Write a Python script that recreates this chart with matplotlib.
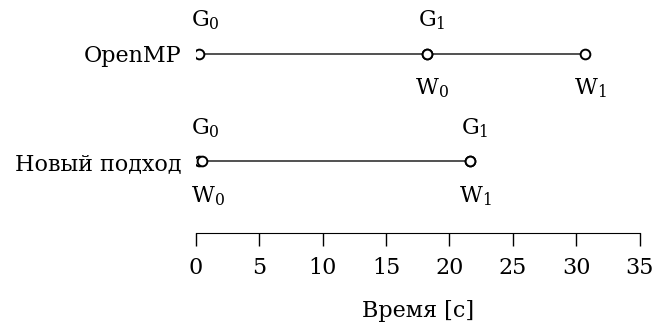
import matplotlib
matplotlib.use('Agg')
import matplotlib.pyplot as plt

plt.rcParams['font.family'] = 'DejaVu Serif'
plt.rcParams['mathtext.fontset'] = 'dejavuserif'

# rows (top to bottom)
methods = ['OpenMP', 'Новый подход']
# moments of G (above the line) and W (below the line), seconds
g_times = [[0.3, 18.2], [0.3, 21.6]]
w_times = [[18.2, 30.7], [0.5, 21.6]]
g_labels = ['G$_0$', 'G$_1$']
w_labels = ['W$_0$', 'W$_1$']
xticks = [0, 5, 10, 15, 20, 25, 30, 35]

fs = 16

fig = plt.figure(figsize=(6.54, 3.30), dpi=100)
ax = fig.add_axes([0.2992, 0.2939, 0.6789, 0.705])

ypos = [1, 0]
for y, gt, wt in zip(ypos, g_times, w_times):
    xs = sorted(gt + wt)
    ax.plot([xs[0], xs[-1]], [y, y], color='#333333', lw=1.2, zorder=1)
    ax.plot(gt + wt, [y] * (len(gt) + len(wt)), 'o', ms=7, mfc='white',
            mec='black', mew=1.4, zorder=2)
    for x, lab in zip(gt, g_labels):
        ax.annotate(lab, (x, y), xytext=(4, 24), textcoords='offset points',
                    ha='center', va='center', fontsize=fs)
    for x, lab in zip(wt, w_labels):
        ax.annotate(lab, (x, y), xytext=(4, -25), textcoords='offset points',
                    ha='center', va='center', fontsize=fs)

ax.set_xlim(0, 35)
ax.set_ylim(-0.67, 1.5)
ax.set_xticks(xticks)
ax.set_yticks(ypos)
ax.set_yticklabels(methods)
ax.tick_params(axis='y', length=0, pad=10, labelsize=fs)
ax.tick_params(axis='x', length=9.5, width=1, pad=8, labelsize=fs)
for s in ['top', 'left', 'right']:
    ax.spines[s].set_visible(False)
ax.set_xlabel('Время [с]', fontsize=fs, labelpad=15)

fig.savefig('out.png', dpi=100)
